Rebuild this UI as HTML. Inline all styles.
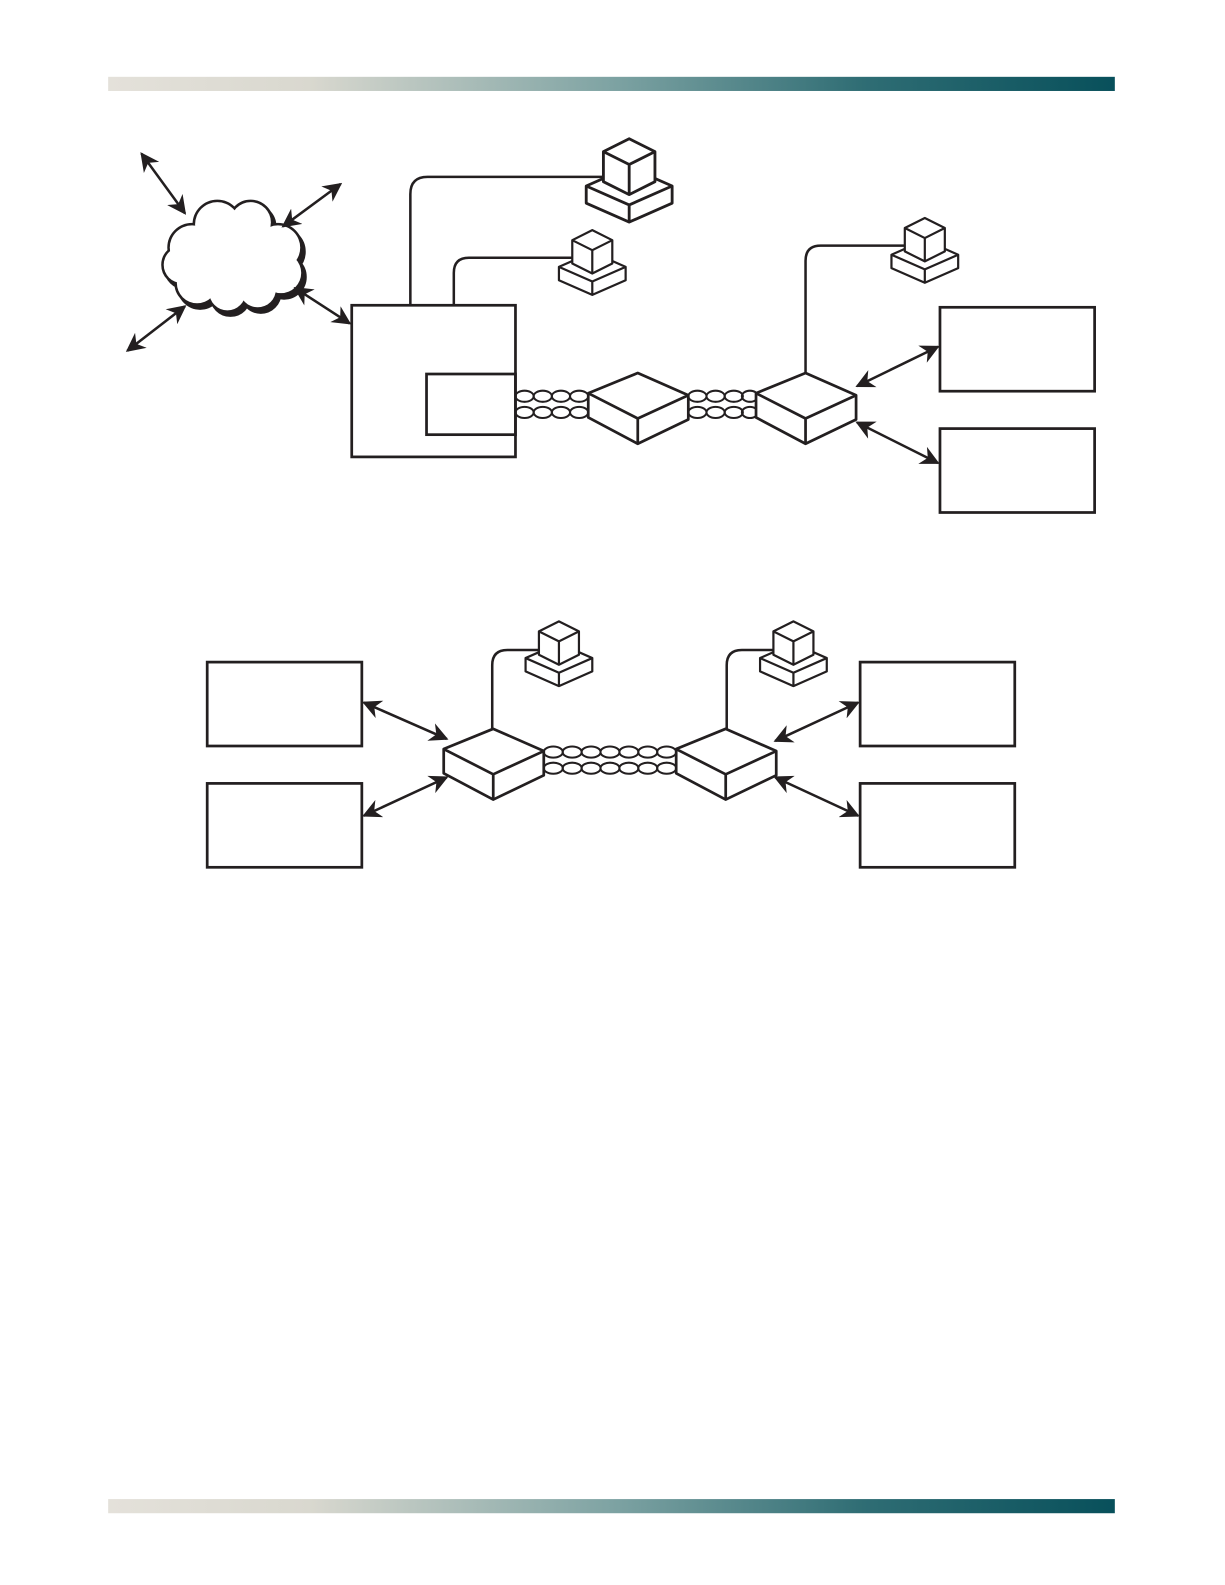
<!DOCTYPE html>
<html><head><meta charset="utf-8"><style>
html,body{margin:0;padding:0;background:#fff}
svg{display:block}
</style></head><body>
<svg width="1225" height="1585" viewBox="0 0 1212 1568" preserveAspectRatio="none" xmlns="http://www.w3.org/2000/svg">
<defs>
<linearGradient id="g" x1="0" x2="1" y1="0" y2="0">
<stop offset="0" stop-color="#e4e1da"/>
<stop offset="0.2" stop-color="#d9d8cf"/>
<stop offset="0.5" stop-color="#7ea3a3"/>
<stop offset="0.75" stop-color="#2f6d74"/>
<stop offset="1" stop-color="#08505b"/>
</linearGradient>
<marker id="a" viewBox="0 0 10 10" refX="9" refY="5" markerWidth="7.5" markerHeight="7.5" orient="auto-start-reverse" markerUnits="strokeWidth">
<path d="M0,0 L10,5 L0,10 L3,5 z" fill="#231f20"/>
</marker>
<g id="pc" fill="#fff" stroke="#231f20" stroke-width="3.3" stroke-linejoin="round">
<path d="M0,0 L50,-22 L100,0 L100,20 L50,42 L0,20 Z"/>
<path d="M0,0 L50,22 L100,0 M50,22 L50,42"/>
<path d="M20,-40 L50,-55 L80,-40 L80,-5 L50,10 L20,-5 Z"/>
<path d="M20,-40 L50,-25 L80,-40 M50,-25 L50,10"/>
</g>
<g id="sw" fill="#fff" stroke="#231f20" stroke-width="2.7" stroke-linejoin="round">
<path d="M0,0 L49,-20 L99,2 L99,26 L49,50 L0,24 Z"/>
<path d="M0,0 L49,25 L99,2 M49,25 L49,50"/>
</g>
<g id="cl">
<circle cx="190" cy="245" r="22"/><circle cx="215" cy="222" r="22"/><circle cx="248" cy="220" r="20"/><circle cx="275" cy="245" r="22"/><circle cx="278" cy="270" r="20"/><circle cx="255" cy="286" r="18"/><circle cx="225" cy="289" r="18"/><circle cx="195" cy="280" r="20"/><circle cx="180" cy="262" r="18"/><circle cx="230" cy="255" r="38"/>
</g>
</defs>

<rect x="107" y="76" width="996" height="14" fill="url(#g)"/>
<rect x="107" y="1483" width="996" height="14" fill="url(#g)"/>

<use href="#cl" transform="translate(3,4)" fill="#231f20" stroke="#231f20" stroke-width="5"/>
<use href="#cl" fill="#231f20" stroke="#231f20" stroke-width="5"/>
<use href="#cl" fill="#fff"/>

<g stroke="#231f20" stroke-width="2.5" fill="none">
<line x1="140" y1="152" x2="183" y2="211" marker-start="url(#a)" marker-end="url(#a)"/>
<line x1="337" y1="182" x2="280" y2="224" marker-start="url(#a)" marker-end="url(#a)"/>
<line x1="126" y1="347" x2="183" y2="303" marker-start="url(#a)" marker-end="url(#a)"/>
<line x1="292" y1="285" x2="346" y2="320" marker-start="url(#a)" marker-end="url(#a)"/>
<line x1="848" y1="382" x2="928" y2="343" marker-start="url(#a)" marker-end="url(#a)"/>
<line x1="848" y1="418" x2="928" y2="458" marker-start="url(#a)" marker-end="url(#a)"/>
<line x1="360" y1="695" x2="442" y2="731" marker-start="url(#a)" marker-end="url(#a)"/>
<line x1="360" y1="807" x2="442" y2="769" marker-start="url(#a)" marker-end="url(#a)"/>
<line x1="767" y1="733" x2="849" y2="695" marker-start="url(#a)" marker-end="url(#a)"/>
<line x1="767" y1="769" x2="849" y2="807" marker-start="url(#a)" marker-end="url(#a)"/>
<path d="M406,302 V192 Q406,175 423,175 H598"/>
<path d="M449,302 V270 Q449,255 464,255 H567"/>
<path d="M797,370 V258 Q797,243 812,243 H896"/>
<path d="M487,721 V658 Q487,643 502,643 H534"/>
<path d="M719,721 V658 Q719,643 734,643 H766"/>
</g>

<g fill="none" stroke="#231f20" stroke-width="2.7">
<rect x="348" y="302" width="162" height="150"/>
<rect x="422" y="370" width="88" height="60"/>
<rect x="930" y="304" width="153" height="83"/>
<rect x="930" y="424" width="153" height="83"/>
<rect x="205" y="655" width="153" height="83"/>
<rect x="205" y="775" width="153" height="83"/>
<rect x="851" y="655" width="153" height="83"/>
<rect x="851" y="775" width="153" height="83"/>
</g>

<g fill="none" stroke="#231f20" stroke-width="2">
<ellipse cx="519" cy="392" rx="9" ry="5.5"/><ellipse cx="537" cy="392" rx="9" ry="5.5"/><ellipse cx="555" cy="392" rx="9" ry="5.5"/><ellipse cx="573" cy="392" rx="9" ry="5.5"/>
<ellipse cx="519" cy="408" rx="9" ry="5.5"/><ellipse cx="537" cy="408" rx="9" ry="5.5"/><ellipse cx="555" cy="408" rx="9" ry="5.5"/><ellipse cx="573" cy="408" rx="9" ry="5.5"/>
<ellipse cx="690" cy="392" rx="9" ry="5.5"/><ellipse cx="708" cy="392" rx="9" ry="5.5"/><ellipse cx="726" cy="392" rx="9" ry="5.5"/><ellipse cx="742" cy="392" rx="8" ry="5.5"/>
<ellipse cx="690" cy="408" rx="9" ry="5.5"/><ellipse cx="708" cy="408" rx="9" ry="5.5"/><ellipse cx="726" cy="408" rx="9" ry="5.5"/><ellipse cx="742" cy="408" rx="8" ry="5.5"/>
<ellipse cx="547.4" cy="744" rx="9.4" ry="5.5"/><ellipse cx="566.1" cy="744" rx="9.4" ry="5.5"/><ellipse cx="584.8" cy="744" rx="9.4" ry="5.5"/><ellipse cx="603.5" cy="744" rx="9.4" ry="5.5"/><ellipse cx="622.2" cy="744" rx="9.4" ry="5.5"/><ellipse cx="640.9" cy="744" rx="9.4" ry="5.5"/><ellipse cx="659.6" cy="744" rx="9.4" ry="5.5"/>
<ellipse cx="547.4" cy="760" rx="9.4" ry="5.5"/><ellipse cx="566.1" cy="760" rx="9.4" ry="5.5"/><ellipse cx="584.8" cy="760" rx="9.4" ry="5.5"/><ellipse cx="603.5" cy="760" rx="9.4" ry="5.5"/><ellipse cx="622.2" cy="760" rx="9.4" ry="5.5"/><ellipse cx="640.9" cy="760" rx="9.4" ry="5.5"/><ellipse cx="659.6" cy="760" rx="9.4" ry="5.5"/>
</g>

<use href="#sw" transform="translate(582,389)"/>
<use href="#sw" transform="translate(748,389)"/>
<use href="#sw" transform="translate(439,741)"/>
<use href="#sw" transform="translate(669,741)"/>

<use href="#pc" transform="translate(580,184) scale(0.85)"/>
<use href="#pc" transform="translate(553,264) scale(0.66)"/>
<use href="#pc" transform="translate(882,252) scale(0.66)"/>
<use href="#pc" transform="translate(520,651) scale(0.66)"/>
<use href="#pc" transform="translate(752,651) scale(0.66)"/>
</svg>
</body></html>
